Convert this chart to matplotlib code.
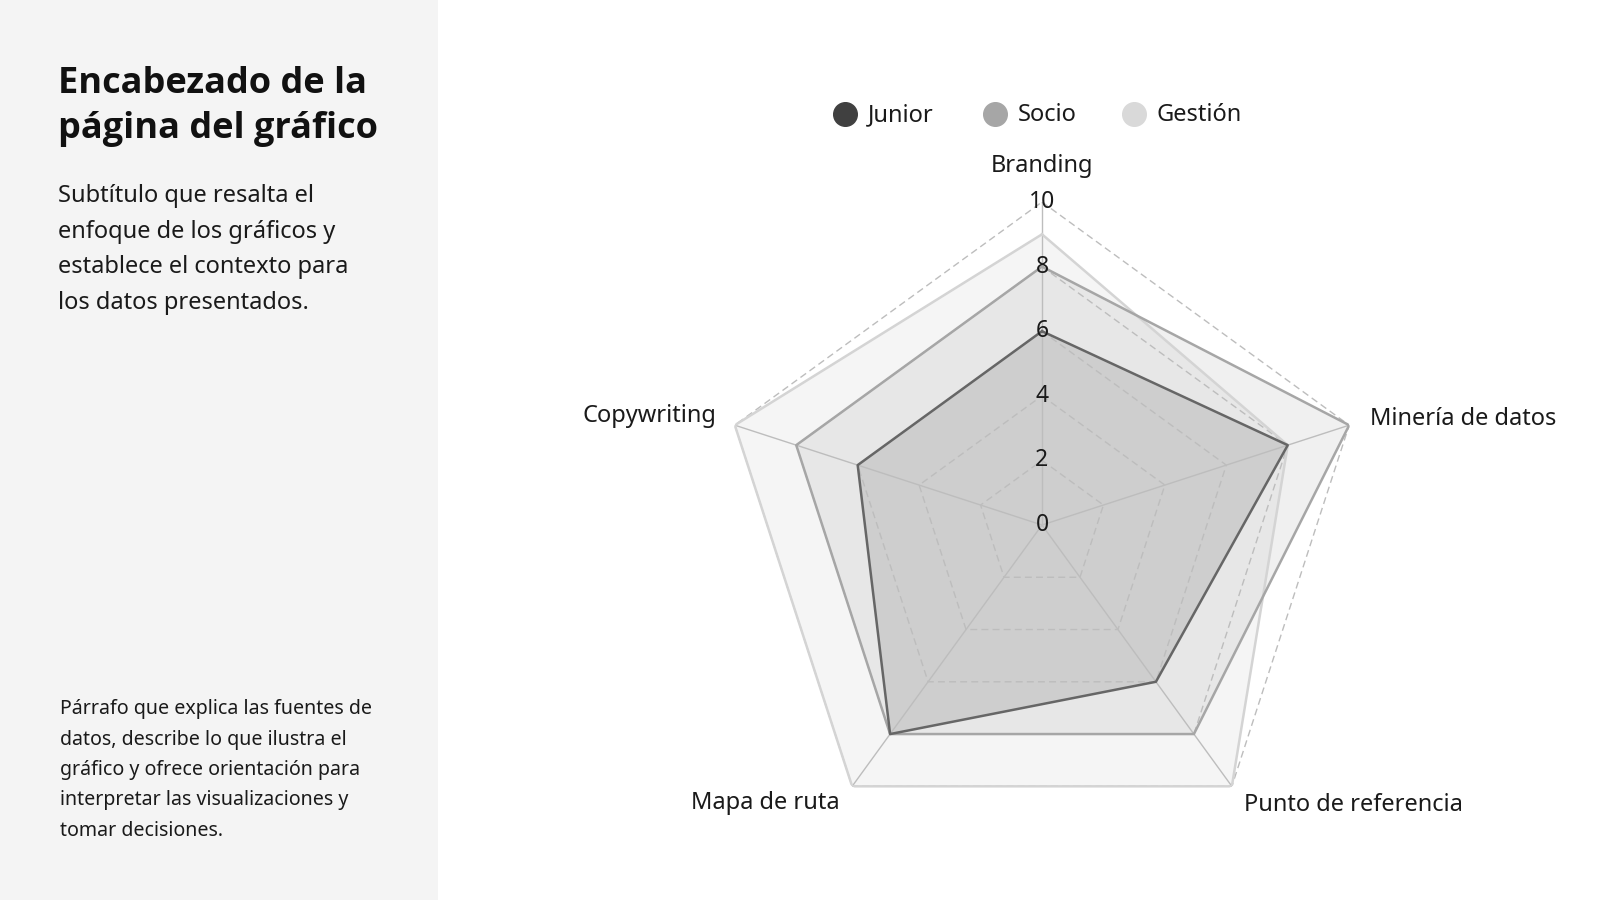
import numpy as np
import matplotlib
matplotlib.use("Agg")
import matplotlib.pyplot as plt
from matplotlib.patches import Rectangle
from matplotlib.lines import Line2D

plt.rcParams['font.family'] = ['Noto Sans', 'DejaVu Sans']

categories = ["Branding", "Minería de datos", "Punto de referencia", "Mapa de ruta", "Copywriting"]
series_names = ["Junior", "Socio", "Gestión"]
junior = [6, 8, 6, 8, 6]
socio = [8, 10, 8, 8, 8]
gestion = [9, 8, 10, 10, 10]
radial_ticks = [0, 2, 4, 6, 8, 10]

line_colors = {"Junior": "#666666", "Socio": "#a6a6a6", "Gestión": "#d4d4d4"}
fill_colors = {"Junior": "#404040", "Socio": "#a6a6a6", "Gestión": "#d9d9d9"}
fill_alpha = {"Junior": 0.15, "Socio": 0.17, "Gestión": 0.25}
legend_colors = {"Junior": "#404040", "Socio": "#a6a6a6", "Gestión": "#d9d9d9"}

W, H = 1600, 900
fig = plt.figure(figsize=(16, 9), dpi=100)
fig.patch.set_facecolor("white")

# left panel
fig.patches.append(Rectangle((0, 0), 438 / W, 1, transform=fig.transFigure,
                             facecolor="#f4f4f4", edgecolor="none", zorder=0))

def fy(py):
    return 1 - py / H

fig.text(58 / W, fy(66), "Encabezado de la\npágina del gráfico", fontsize=26,
         fontweight="bold", family=["Open Sans", "DejaVu Sans"],
         va="top", ha="left", color="#111111", linespacing=1.33)
fig.text(58 / W, fy(184), "Subtítulo que resalta el\nenfoque de los gráficos y\nestablece el contexto para\nlos datos presentados.",
         fontsize=17, va="top", ha="left", color="#1a1a1a", linespacing=1.64)
fig.text(60 / W, fy(699), "Párrafo que explica las fuentes de\ndatos, describe lo que ilustra el\ngráfico y ofrece orientación para\ninterpretar las visualizaciones y\ntomar decisiones.",
         fontsize=14.1, va="top", ha="left", color="#1a1a1a", linespacing=1.70)

# radar
cx, cy, R = 1042, 525, 323
ax = fig.add_axes([(cx - R) / W, (H - cy - R) / H, 2 * R / W, 2 * R / H], projection="polar")
ax.set_theta_offset(np.pi / 2)
ax.set_theta_direction(-1)
ax.set_ylim(0, 10)
ax.set_facecolor("none")
ax.spines["polar"].set_visible(False)
ax.grid(False)
ax.set_xticks([])
ax.set_yticks([])

n = len(categories)
theta = np.linspace(0, 2 * np.pi, n, endpoint=False)
theta_c = np.concatenate([theta, theta[:1]])

# grid
for r in radial_ticks[1:]:
    ax.plot(theta_c, [r] * (n + 1), color="#bdbdbd", lw=1.0, ls=(0, (5, 3)), zorder=5)
for t in theta:
    ax.plot([t, t], [0, 10], color="#bdbdbd", lw=1.0, zorder=5)

data = {"Junior": junior, "Socio": socio, "Gestión": gestion}
for name in ["Gestión", "Socio", "Junior"]:
    vals = data[name]
    v = np.concatenate([vals, vals[:1]])
    ax.fill(theta_c, v, color=fill_colors[name], alpha=fill_alpha[name], lw=0, zorder=2)
    ax.plot(theta_c, v, color=line_colors[name], lw=1.8, zorder=6)

for r in radial_ticks:
    ax.text(0, r, str(r), ha="center", va="center", fontsize=16.5, color="#1a1a1a", zorder=10)

# category labels
lab_pos = [(1042, 166, "center"), (1370, 419, "left"), (1244, 805, "left"),
           (840, 803, "right"), (716, 416, "right")]
for (px, py, ha), c in zip(lab_pos, categories):
    fig.text(px / W, fy(py), c, ha=ha, va="center", fontsize=17, color="#1a1a1a")

# legend
leg_x = [849, 999, 1138]
for x, name in zip(leg_x, series_names):
    xx = x - 4
    fig.add_artist(Line2D([xx / W], [fy(114)], marker="o", markersize=17, color=legend_colors[name],
                          transform=fig.transFigure, ls="none"))
    fig.text((xx + 23) / W, fy(115), name, ha="left", va="center", fontsize=17, color="#1a1a1a")

fig.savefig("out.png", dpi=100, facecolor="white")
